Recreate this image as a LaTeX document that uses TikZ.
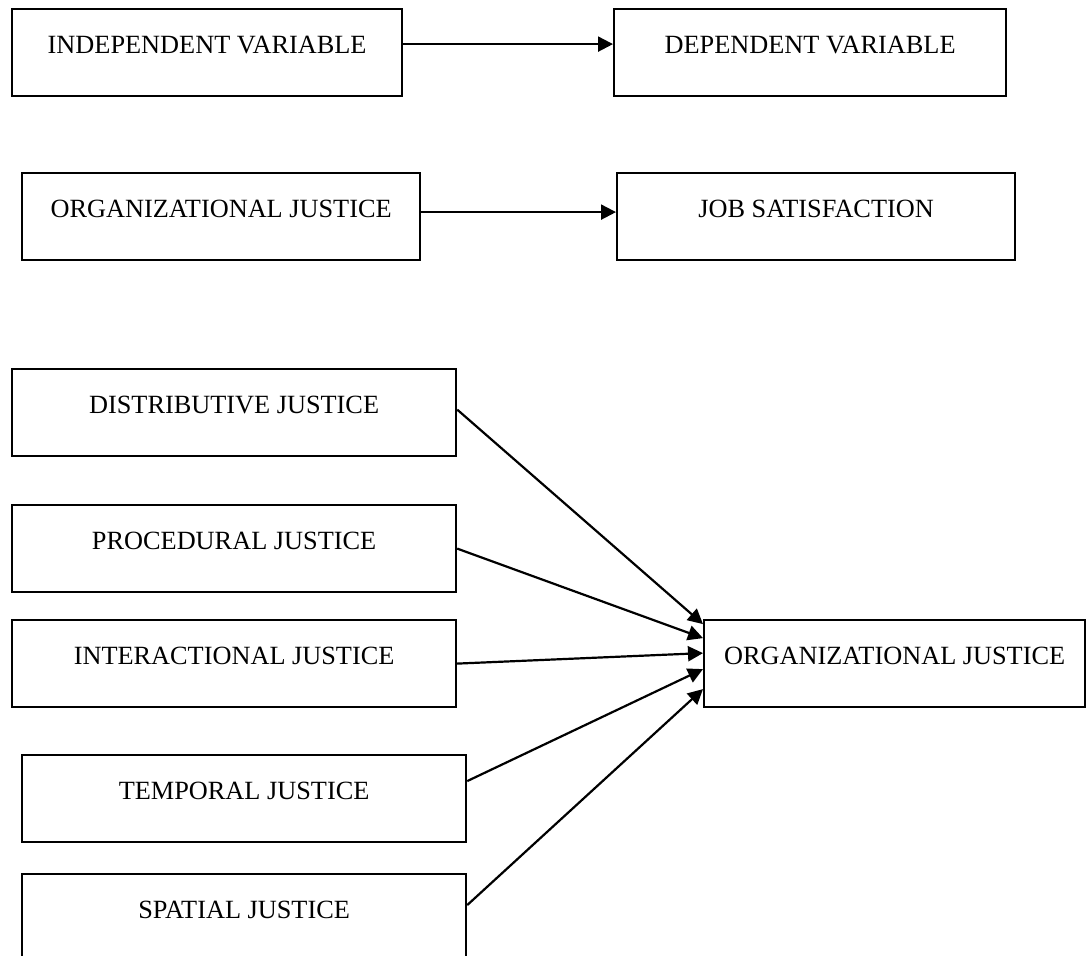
\documentclass[tikz,border=0pt]{standalone}
\usepackage{fontspec}
\setmainfont{Liberation Serif}
\usetikzlibrary{arrows.meta}
\begin{document}
\begin{tikzpicture}[x=1pt,y=1pt,
  vbox/.style={draw=black, line width=2.2pt, rectangle, anchor=north west,
    inner xsep=0pt, inner ysep=0pt, text height=44pt, text depth=43pt,
    font=\fontsize{26.3}{30}\selectfont, align=center},
  conn/.style={line width=2.2pt, -{Triangle[length=15pt,width=15pt]}}]
\useasboundingbox (0,0) rectangle (1086,-955);
% top rows
\node[vbox, minimum width=390pt] (iv) at (11,-8) {INDEPENDENT VARIABLE};
\node[vbox, minimum width=392pt] (dv) at (613,-8) {DEPENDENT VARIABLE};
\node[vbox, minimum width=398pt] (oj1) at (21,-172) {ORGANIZATIONAL JUSTICE};
\node[vbox, minimum width=398pt] (js) at (616,-172) {JOB SATISFACTION};
\draw[conn] ([yshift=8.5pt]iv.east) -- ([yshift=8.5pt]dv.west);
\draw[conn] ([yshift=4.5pt]oj1.east) -- ([yshift=4.5pt]js.west);
% dimensions
\node[vbox, minimum width=444pt] (dj) at (11,-368) {DISTRIBUTIVE JUSTICE};
\node[vbox, minimum width=444pt] (pj) at (11,-504) {PROCEDURAL JUSTICE};
\node[vbox, minimum width=444pt] (ij) at (11,-619) {INTERACTIONAL JUSTICE};
\node[vbox, minimum width=444pt] (tj) at (21,-754) {TEMPORAL JUSTICE};
\node[vbox, minimum width=444pt] (sj) at (21,-873) {SPATIAL JUSTICE};
\node[vbox, minimum width=381pt] (oj2) at (703,-619) {ORGANIZATIONAL JUSTICE};
\draw[conn] ([yshift=3pt]dj.east) -- ([yshift=39.5pt]oj2.west);
\draw[conn] (pj.east) -- ([yshift=25.5pt]oj2.west);
\draw[conn] (ij.east) -- ([yshift=10.5pt]oj2.west);
\draw[conn] ([yshift=17.5pt]tj.east) -- ([yshift=-5.5pt]oj2.west);
\draw[conn] ([yshift=12.5pt]sj.east) -- ([yshift=-25.5pt]oj2.west);
\end{tikzpicture}
\end{document}
